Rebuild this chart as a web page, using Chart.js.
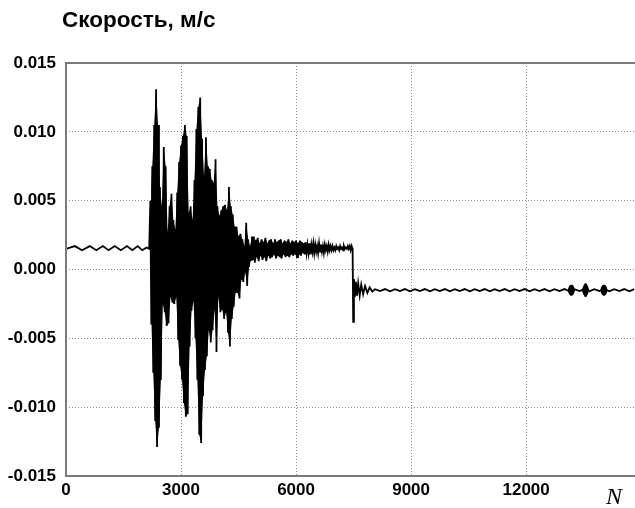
<!DOCTYPE html>
<html>
<head>
<meta charset="utf-8">
<script src="https://cdn.jsdelivr.net/npm/chart.js@4/dist/chart.umd.min.js"></script>
<style>
  html, body { margin: 0; padding: 0; background: #fff; }
  #wrap { position: relative; width: 635px; height: 508px; overflow: hidden; }
  #title { position: absolute; left: 62px; top: 9px; font: bold 22.5px "Liberation Sans", Arial, sans-serif; line-height: 22px; color: #000; white-space: nowrap; }
  #nlabel { position: absolute; left: 606px; top: 484px; font: italic 24px "Liberation Serif", "Times New Roman", serif; line-height: 24px; color: #000; }
</style>
</head>
<body>
<div id="wrap">
  <canvas id="c" width="635" height="508"></canvas>
  <div id="title">Скорость, м/с</div>
  <div id="nlabel">N</div>
</div>
<script>
// ---- data ----
// quiet part before the burst
const preN = [0, 230, 420, 620, 790, 960, 1110, 1270, 1430, 1590, 1730, 1870, 1990, 2100, 2170];
const preV = [0.0015, 0.0017, 0.0014, 0.0017, 0.0014, 0.0017, 0.0014, 0.0017, 0.0014, 0.0017, 0.0014, 0.0017, 0.0014, 0.0016, 0.0015];

// burst: oscillation extremes every 50 samples starting at N = 2200
const burstStartN = 2200;
const burstStepN = 50;
const burstUp = [0.0050, 0.0075, 0.0105, 0.0131, 0.0105, 0.0060, 0.0046, 0.0089, 0.0075, 0.0027,
                 0.0046, 0.0055, 0.0036, 0.0029, 0.0056, 0.0078, 0.0090, 0.0097, 0.0105, 0.0097,
                 0.0041, 0.0046, 0.0036, 0.0065, 0.0102, 0.0118, 0.0125, 0.0095, 0.0068, 0.0096,
                 0.0075, 0.0073, 0.0065, 0.0063, 0.0080, 0.0046, 0.0039, 0.0043, 0.0046, 0.0047,
                 0.0043, 0.0060, 0.0046, 0.0040, 0.0031, 0.0031, 0.0024, 0.0026, 0.0022, 0.0017,
                 0.0034, 0.0022, 0.0017, 0.0024];
const burstDown = [-0.0040, -0.0075, -0.0110, -0.0129, -0.0115, -0.0080, -0.0025, -0.0031, -0.0041, -0.0039,
                   -0.0020, -0.0024, -0.0025, -0.0020, -0.0051, -0.0070, -0.0080, -0.0097, -0.0107, -0.0105,
                   -0.0056, -0.0030, -0.0023, -0.0050, -0.0080, -0.0120, -0.0126, -0.0092, -0.0073, -0.0063,
                   -0.0044, -0.0053, -0.0044, -0.0029, -0.0060, -0.0020, -0.0031, -0.0029, -0.0036, -0.0031,
                   -0.0046, -0.0056, -0.0036, -0.0027, -0.0017, -0.0017, -0.0021, -0.0007, -0.0009, -0.0002,
                   -0.0012, 0.0002, 0.0007, 0.0007];

// noisy plateau after the burst, extremes every 50 samples from N = 4900
const noiseStartN = 4900;
const noiseStepN = 50;
const noiseUp = [0.0024, 0.0021, 0.0023, 0.0019, 0.0022, 0.0020, 0.0023, 0.0019, 0.0021, 0.0022,
                 0.0019, 0.0022, 0.0020, 0.0021, 0.0022, 0.0019, 0.0021, 0.0020, 0.0022, 0.0019,
                 0.0021, 0.0020, 0.0021, 0.0019, 0.0021, 0.0020, 0.0019, 0.0020, 0.0018, 0.0019,
                 0.0018, 0.0019, 0.0018, 0.0017, 0.0019, 0.0018, 0.0017, 0.0018, 0.0017, 0.0018,
                 0.0017, 0.0017, 0.0016, 0.0017, 0.0016, 0.0017, 0.0016, 0.0017, 0.0016, 0.0017,
                 0.0017, 0.0017];
const noiseDown = [0.0005, 0.0009, 0.0006, 0.0010, 0.0007, 0.0009, 0.0006, 0.0010, 0.0008, 0.0009,
                   0.0011, 0.0008, 0.0010, 0.0009, 0.0008, 0.0011, 0.0009, 0.0010, 0.0009, 0.0011,
                   0.0010, 0.0011, 0.0009, 0.0011, 0.0010, 0.0012, 0.0011, 0.0012, 0.0012, 0.0011,
                   0.0013, 0.0012, 0.0013, 0.0012, 0.0013, 0.0013, 0.0012, 0.0014, 0.0013, 0.0014,
                   0.0014, 0.0014, 0.0014, 0.0015, 0.0014, 0.0015, 0.0014, 0.0015, 0.0015, 0.0015,
                   0.0014, 0.0015];

// step down with ringing
const dropN = [7460, 7475, 7490, 7510, 7535, 7560, 7590, 7620, 7660, 7700, 7750, 7800, 7860, 7920, 7990];
const dropV = [0.0016, 0.0015, -0.0038, -0.0007, -0.0020, -0.0009, -0.0019, -0.0010, -0.0019, -0.0011, -0.0018, -0.0012, -0.0017, -0.0013, -0.0016];

// calm tail, one value every 130 samples from N = 8060
const tailStartN = 8060;
const tailStepN = 130;
const tailV = [-0.00143, -0.00157, -0.00142, -0.00158, -0.00143, -0.00157, -0.00142, -0.00158, -0.00143, -0.00157,
               -0.00142, -0.00158, -0.00143, -0.00157, -0.00142, -0.00158, -0.00143, -0.00157, -0.00142, -0.00158,
               -0.00143, -0.00157, -0.00142, -0.00158, -0.00143, -0.00157, -0.00142, -0.00158, -0.00143, -0.00157,
               -0.00142, -0.00158, -0.00143, -0.00157, -0.00142, -0.00158, -0.00143, -0.00157, -0.00142, -0.00158,
               -0.00143, -0.00157, -0.00142, -0.00158, -0.00143, -0.00157, -0.00142, -0.00158, -0.00143, -0.00157,
               -0.00142, -0.00158, -0.00143];

// thicker bursts in the tail (upper / lower edge)
const blobN    = [13080, 13120, 13160, 13200, 13240, 13280, 13450, 13490, 13530, 13570, 13610, 13650, 13930, 13970, 14010, 14050, 14090, 14130];
const blobUp   = [-0.0015, -0.0012, -0.0011, -0.0011, -0.0012, -0.0015, -0.0015, -0.0012, -0.0010, -0.0010, -0.0012, -0.0015, -0.0015, -0.0012, -0.0011, -0.0011, -0.0012, -0.0015];
const blobDown = [-0.0015, -0.0018, -0.0019, -0.0019, -0.0018, -0.0015, -0.0015, -0.0018, -0.0020, -0.0020, -0.0018, -0.0015, -0.0015, -0.0018, -0.0019, -0.0019, -0.0018, -0.0015];

// axis ticks
const xTicks = [0, 3000, 6000, 9000, 12000];
const yTicks = [-0.015, -0.010, -0.005, 0.000, 0.005, 0.010, 0.015];

// ---- build the series ----
const pts = [];
preN.forEach((n, i) => pts.push({x: n, y: preV[i]}));
burstUp.forEach((v, i) => {
  const n = burstStartN + i * burstStepN;
  pts.push({x: n, y: v});
  pts.push({x: n + burstStepN / 2, y: burstDown[i]});
});
noiseUp.forEach((v, i) => {
  const n = noiseStartN + i * noiseStepN;
  pts.push({x: n, y: v});
  pts.push({x: n + noiseStepN / 2, y: noiseDown[i]});
});
dropN.forEach((n, i) => pts.push({x: n, y: dropV[i]}));
tailV.forEach((v, i) => pts.push({x: tailStartN + i * tailStepN, y: v}));
pts.sort((a, b) => a.x - b.x);

const burstTop = burstUp.map((v, i) => ({x: burstStartN + i * burstStepN, y: v}));
const burstBot = burstDown.map((v, i) => ({x: burstStartN + i * burstStepN + burstStepN / 2, y: v}));
const noiseTop = noiseUp.map((v, i) => ({x: noiseStartN + i * noiseStepN, y: v}));
const noiseBot = noiseDown.map((v, i) => ({x: noiseStartN + i * noiseStepN + noiseStepN / 2, y: v}));
const blobTop = blobN.map((n, i) => ({x: n, y: blobUp[i]}));
const blobBot = blobN.map((n, i) => ({x: n, y: blobDown[i]}));

function band(data, fillTo) {
  return {
    data: data,
    borderWidth: 0,
    borderColor: 'rgba(0,0,0,0)',
    backgroundColor: '#000',
    pointRadius: 0,
    tension: 0,
    fill: fillTo
  };
}

const frame = {
  id: 'frame',
  afterDatasetsDraw(chart) {
    const a = chart.chartArea, ctx = chart.ctx;
    ctx.save();
    ctx.strokeStyle = '#7a7a7a';
    ctx.lineWidth = 2;
    ctx.strokeRect(a.left, a.top, a.right - a.left + 2, a.bottom - a.top);
    ctx.restore();
  }
};

new Chart(document.getElementById('c'), {
  type: 'line',
  data: {
    datasets: [
      {
        data: pts,
        borderColor: '#000',
        borderWidth: 1.8,
        pointRadius: 0,
        tension: 0,
        fill: false
      },
      band(burstTop, '+1'), band(burstBot, false),
      band(noiseTop, '+1'), band(noiseBot, false),
      band(blobTop, '+1'), band(blobBot, false)
    ]
  },
  options: {
    responsive: false,
    animation: false,
    devicePixelRatio: 1,
    layout: { padding: { left: 0, top: 63, right: 0, bottom: 0 } },
    plugins: { legend: { display: false }, title: { display: false }, tooltip: { enabled: false } },
    scales: {
      x: {
        type: 'linear',
        min: 0,
        max: 14840,
        afterBuildTicks(s) { s.ticks = xTicks.map(v => ({value: v})); },
        afterFit(s) { s.height = 32; },
        border: { display: false, dash: [1, 2] },
        grid: { color: '#8a8a8a', lineWidth: 1, drawTicks: false },
        ticks: {
          color: '#000',
          font: { family: 'Liberation Sans', size: 17, weight: 'bold' },
          padding: 4,
          maxRotation: 0,
          autoSkip: false,
          callback: v => String(v)
        }
      },
      y: {
        min: -0.015,
        max: 0.015,
        afterBuildTicks(s) { s.ticks = yTicks.map(v => ({value: v})); },
        afterFit(s) { s.width = 66; },
        border: { display: false, dash: [1, 2] },
        grid: { color: '#8a8a8a', lineWidth: 1, drawTicks: false },
        ticks: {
          color: '#000',
          font: { family: 'Liberation Sans', size: 17, weight: 'bold' },
          padding: 10,
          autoSkip: false,
          callback: v => Number(v).toFixed(3)
        }
      }
    }
  },
  plugins: [frame]
});
</script>
</body>
</html>
